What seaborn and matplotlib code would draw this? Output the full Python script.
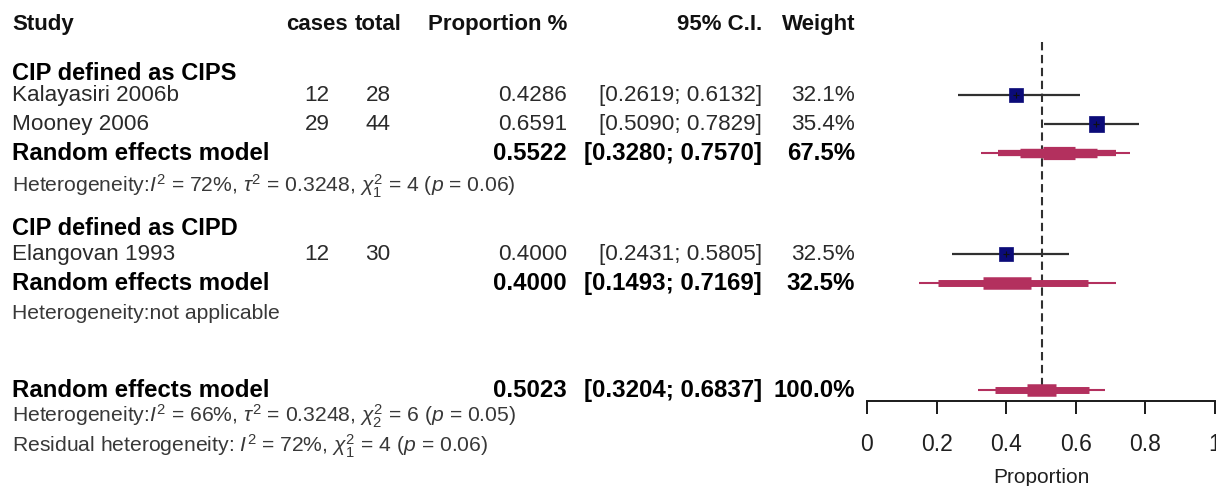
import numpy as np
import pandas as pd
import matplotlib
matplotlib.use("Agg")
import matplotlib.pyplot as plt
import seaborn as sns
from matplotlib.transforms import blended_transform_factory

sns.set_style("white")
plt.rcParams["font.family"] = ["Liberation Sans", "DejaVu Sans"]
plt.rcParams["mathtext.fontset"] = "custom"
plt.rcParams["mathtext.rm"] = "Liberation Sans"
plt.rcParams["mathtext.it"] = "Liberation Sans:italic"
plt.rcParams["mathtext.bf"] = "Liberation Sans:bold"

# ---------------- data ----------------
headers = ["Study", "cases", "total", "Proportion %", "95% C.I.", "Weight"]

group_labels = ["CIP defined as CIPS", "CIP defined as CIPD"]

studies = ["Kalayasiri 2006b", "Mooney 2006", "Elangovan 1993"]
cases = [12, 29, 12]
totals = [28, 44, 30]
props = [0.4286, 0.6591, 0.4000]
ci_low = [0.2619, 0.5090, 0.2431]
ci_high = [0.6132, 0.7829, 0.5805]
weights = [32.1, 35.4, 32.5]

summary_labels = ["Random effects model", "Random effects model", "Random effects model"]
summary_est = [0.5522, 0.4000, 0.5023]
summary_low = [0.3280, 0.1493, 0.3204]
summary_high = [0.7570, 0.7169, 0.6837]
summary_weight = [67.5, 32.5, 100.0]

het_texts = [
    r"Heterogeneity:$I^2$ = 72%, $\tau^2$ = 0.3248, $\chi^2_1$ = 4 ($p$ = 0.06)",
    "Heterogeneity:not applicable",
    r"Heterogeneity:$I^2$ = 66%, $\tau^2$ = 0.3248, $\chi^2_2$ = 6 ($p$ = 0.05)",
]
resid_text = r"Residual heterogeneity: $I^2$ = 72%, $\chi^2_1$ = 4 ($p$ = 0.06)"

x_ticks = [0, 0.2, 0.4, 0.6, 0.8, 1.0]
x_tick_labels = ["0", "0.2", "0.4", "0.6", "0.8", "1"]
x_label = "Proportion"

# ---------------- layout (row positions in line units) ----------------
row_header = -2.39
row_group = [-0.75, 4.54]
row_study = [0.0, 0.99, 5.43]
row_summary = [1.98, 6.42, 10.07]
row_het = [3.10, 7.47, 10.96]
row_resid = 12.0

W, H = 1216, 486
fig = plt.figure(figsize=(W / 100, H / 100), dpi=100)
ax_left, ax_right, ax_top, ax_bot = 867, 1215, 42, 401
ax = fig.add_axes([ax_left / W, (H - ax_bot) / H, (ax_right - ax_left) / W, (ax_bot - ax_top) / H])
ax.set_xlim(0, 1)
px_per_row = 29.3
r_top = (ax_top - 95) / px_per_row
r_bot = (ax_bot - 95) / px_per_row
ax.set_ylim(r_bot, r_top)

navy = "#0b0b78"
pink = "#b3305e"
line_col = "#303030"
txt_col = "#2a2a2a"

# reference dashed line at overall estimate
ax.plot([summary_est[2], summary_est[2]], [r_top, row_summary[2] + 0.2],
        color=line_col, lw=1.5, linestyle=(0, (4, 2.2)), zorder=1)

# study CIs and squares
ax.hlines(row_study, ci_low, ci_high, color=line_col, lw=1.6, zorder=2)
df = pd.DataFrame({"prop": props, "row": row_study, "weight": weights})
sns.scatterplot(data=df, x="prop", y="row", size="weight", sizes=(100, 118),
                size_norm=(32.1, 35.4), marker="s", color=navy, edgecolor=navy,
                linewidth=0.5, legend=False, ax=ax, zorder=3)
ax.scatter(props, row_study, marker="+", s=18, color="#101010", lw=0.8, zorder=4)

# summary "stepped" intervals (nested intervals on logit scale)
def logit(p):
    p = np.asarray(p, dtype=float)
    return np.log(p / (1 - p))

def expit(x):
    return 1 / (1 + np.exp(-x))

level_styles = [
    ([1.96, 1.5, 0.96, 0.40], [1.5, 4.5, 6.8, 9.5]),
    ([1.96, 1.4, 0.43], [1.5, 5.0, 9.0]),
    ([1.96, 1.42, 0.43], [1.5, 5.0, 9.0]),
]
for i in range(3):
    lo, hi = logit(summary_low[i]), logit(summary_high[i])
    mid = (lo + hi) / 2
    se = (hi - lo) / (2 * 1.96)
    zs, lws = level_styles[i]
    for z, lw in zip(zs, lws):
        a, b = expit(mid - z * se), expit(mid + z * se)
        ax.hlines(row_summary[i], a, b, color=pink, lw=lw, capstyle="butt", zorder=2)

# axis styling
for s in ["top", "left", "right"]:
    ax.spines[s].set_visible(False)
ax.spines["bottom"].set_color("#1a1a1a")
ax.spines["bottom"].set_linewidth(1.4)
ax.set_yticks([])
ax.set_xticks(x_ticks)
ax.set_xticklabels(x_tick_labels, fontsize=16.5, color="#202020")
ax.tick_params(axis="x", bottom=True, direction="out", length=9, width=1.4,
               color="#1a1a1a", pad=14)
ax.set_xlabel(x_label, fontsize=15, color="#202020", labelpad=9)
ax.set_ylabel("")
ax.patch.set_alpha(0)

# ---------------- text table ----------------
tr = blended_transform_factory(fig.transFigure, ax.transData)

def T(xpx, row, s, ha="left", size=15, weight="normal", color=txt_col):
    ax.text(xpx / W, row, s, transform=tr, ha=ha, va="center", fontsize=size,
            fontweight=weight, color=color, clip_on=False)

x_study, x_cases, x_total, x_prop, x_ci, x_w = 12, 317, 378, 567, 762, 855
hdr = dict(size=16, weight="bold", color="#111111")
T(x_study, row_header, headers[0], **hdr)
T(x_cases, row_header, headers[1], ha="center", **hdr)
T(x_total, row_header, headers[2], ha="center", **hdr)
T(x_prop, row_header, headers[3], ha="right", **hdr)
T(x_ci, row_header, headers[4], ha="right", **hdr)
T(x_w, row_header, headers[5], ha="right", **hdr)

for g, r in zip(group_labels, row_group):
    T(x_study, r, g, size=17, weight="bold", color="#000000")

norm = dict(size=16.2)
for i in range(3):
    r = row_study[i]
    T(x_study, r, studies[i], **norm)
    T(x_cases, r, str(cases[i]), ha="center", **norm)
    T(x_total, r, str(totals[i]), ha="center", **norm)
    T(x_prop, r, f"{props[i]:.4f}", ha="right", **norm)
    T(x_ci, r, f"[{ci_low[i]:.4f}; {ci_high[i]:.4f}]", ha="right", **norm)
    T(x_w, r, f"{weights[i]:.1f}%", ha="right", **norm)

bold = dict(size=17.3, weight="bold", color="#000000")
for i in range(3):
    r = row_summary[i]
    T(x_study, r, summary_labels[i], **bold)
    T(x_prop, r, f"{summary_est[i]:.4f}", ha="right", **bold)
    T(x_ci, r, f"[{summary_low[i]:.4f}; {summary_high[i]:.4f}]", ha="right", **bold)
    T(x_w, r, f"{summary_weight[i]:.1f}%", ha="right", **bold)

for s, r in zip(het_texts, row_het):
    T(x_study, r, s, size=15.2, color="#383838")
T(x_study, row_resid, resid_text, size=15.2, color="#383838")

fig.savefig("out.png", dpi=100, facecolor="white")
